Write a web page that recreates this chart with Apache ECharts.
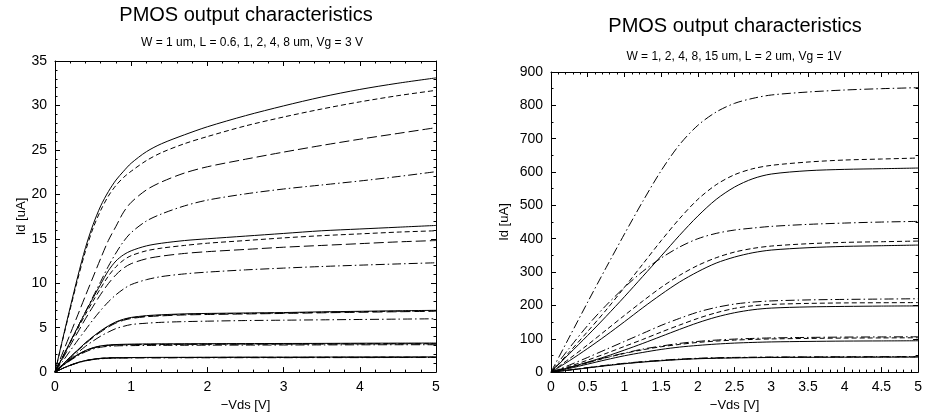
<!DOCTYPE html>
<html>
<head>
<meta charset="utf-8">
<script src="https://cdn.jsdelivr.net/npm/echarts@6/dist/echarts.min.js"></script>
<style>html,body{margin:0;padding:0;background:#fff}#c{width:925px;height:417px}</style>
</head>
<body>
<div id="c"></div>
<script>
// ---- Left panel: W = 1 um, L = 0.6, 1, 2, 4, 8 um, Vg = 3 V ----
const xLeft = [0,0.1,0.2,0.3,0.4,0.5,0.6,0.7,0.8,0.9,1,1.2,1.4,1.7,2,2.5,3,3.5,4,4.5,5];
const L06_solid = [0,3.7,7.3,10.8,14.0,16.6,18.7,20.3,21.6,22.6,23.5,24.8,25.7,26.7,27.6,28.85,29.95,30.95,31.8,32.5,33.1];
const L06_short = [0,3.6,7.1,10.5,13.6,16.2,18.2,19.8,21.0,21.9,22.6,23.8,24.7,25.7,26.5,27.7,28.7,29.6,30.4,31.1,31.7];
const L06_long  = [0,2.15,4.3,6.45,8.6,10.7,12.8,14.8,16.4,18.0,19.1,20.5,21.4,22.4,23.1,23.95,24.75,25.5,26.2,26.85,27.5];
const L06_dd    = [0,1.7,3.4,5.1,6.8,8.5,10.2,11.9,13.4,14.7,15.7,17.0,17.8,18.7,19.35,20.05,20.6,21.05,21.5,22.0,22.55];
const L1_solid = [0,1.7,3.4,5.1,6.75,8.35,9.9,11.4,12.5,13.2,13.65,14.2,14.5,14.8,15.0,15.3,15.6,15.9,16.1,16.3,16.5];
const L1_short = [0,1.65,3.3,4.9,6.5,8.0,9.45,10.8,11.85,12.6,13.1,13.65,13.95,14.25,14.5,14.8,15.1,15.35,15.55,15.75,15.9];
const L1_long  = [0,1.5,3.0,4.5,6.0,7.4,8.75,9.95,10.95,11.7,12.2,12.75,13.05,13.35,13.55,13.8,14.05,14.25,14.45,14.65,14.8];
const L1_dd    = [0,1.2,2.4,3.6,4.75,5.9,6.95,7.9,8.7,9.35,9.85,10.4,10.75,11.05,11.25,11.5,11.7,11.88,12.03,12.17,12.3];
const L2_solid = [0,0.85,1.7,2.5,3.3,4.0,4.65,5.2,5.65,5.95,6.15,6.35,6.45,6.55,6.6,6.65,6.7,6.78,6.84,6.9,6.95];
const L2_short = [0,0.84,1.68,2.48,3.27,3.97,4.6,5.15,5.6,5.9,6.1,6.3,6.4,6.5,6.55,6.6,6.66,6.73,6.8,6.85,6.9];
const L2_long  = [0,0.82,1.64,2.43,3.2,3.9,4.52,5.07,5.52,5.83,6.03,6.23,6.33,6.43,6.48,6.54,6.6,6.67,6.73,6.79,6.85];
const L2_dd    = [0,0.75,1.5,2.2,2.9,3.5,4.05,4.5,4.9,5.15,5.35,5.5,5.6,5.68,5.73,5.8,5.84,5.88,5.92,5.96,6.0];
const L4_solid = [0,0.75,1.4,1.98,2.43,2.75,2.95,3.05,3.1,3.13,3.15,3.17,3.18,3.19,3.2,3.21,3.22,3.23,3.25,3.26,3.27];
const L4_short = [0,0.74,1.38,1.95,2.4,2.72,2.92,3.02,3.07,3.09,3.1,3.12,3.13,3.14,3.15,3.16,3.17,3.18,3.19,3.2,3.2];
const L4_long  = [0,0.73,1.36,1.93,2.37,2.69,2.89,2.99,3.04,3.06,3.08,3.1,3.11,3.12,3.13,3.14,3.15,3.16,3.17,3.18,3.18];
const L4_dd    = [0,0.7,1.3,1.85,2.28,2.6,2.8,2.9,2.95,2.97,2.98,3.0,3.01,3.02,3.03,3.04,3.05,3.06,3.07,3.08,3.08];
const L8_solid = [0,0.42,0.78,1.08,1.3,1.45,1.55,1.6,1.62,1.63,1.64,1.65,1.66,1.66,1.67,1.68,1.68,1.69,1.7,1.7,1.71];
const L8_short = [0,0.41,0.77,1.07,1.29,1.44,1.54,1.59,1.61,1.62,1.63,1.64,1.64,1.65,1.65,1.66,1.66,1.67,1.67,1.68,1.68];
const L8_long  = [0,0.41,0.76,1.06,1.28,1.43,1.53,1.58,1.6,1.61,1.62,1.63,1.63,1.64,1.64,1.65,1.65,1.66,1.66,1.67,1.67];
const L8_dd    = [0,0.4,0.75,1.04,1.26,1.41,1.5,1.55,1.57,1.58,1.59,1.6,1.6,1.61,1.61,1.62,1.62,1.63,1.63,1.64,1.64];

// ---- Right panel: W = 1, 2, 4, 8, 15 um, L = 2 um, Vg = 1V ----
const xRight = [0,0.25,0.5,0.75,1,1.25,1.5,1.75,2,2.25,2.5,2.75,3,3.5,4,4.5,5];
const W15_dd    = [0,105,210,313,414,512,604,682,740,780,806,821,831,840,846,850,853];
const W15_dash  = [0,60,122,186,254,324,394,460,518,562,592,610,620,630,636,639,642];
const W15_solid = [0,55,110,167,226,287,348,410,468,518,555,580,594,604,608,610,612];
const W8_dd     = [0,72,140,200,254,302,342,375,400,416,426,432,437,443,447,450,452];
const W8_dash   = [0,40,82,126,170,213,254,290,320,343,360,371,378,385,389,391,393];
const W8_solid  = [0,34,71,110,151,193,233,270,301,327,345,358,366,373,377,379,381];
const W4_dd     = [0,21,44,68,92,116,140,161,180,194,204,210,213.5,216.5,218,219,220];
const W4_dash   = [0,17,36,56,77,98,120,141,161,178,191,199,203,206,207.5,208,208.5];
const W4_solid  = [0,14,30,47,66,86,107,128,148,165,178,187,192,195.5,197,198,198.5];
const W2_dd     = [0,14,29,44,57,69,78,86,92,96,99,101,102.5,104,105,105.5,106];
const W2_dash   = [0,13,28,43,56,67,76,83,89,93,96,98,99.5,101,102,102.5,103];
const W2_solid  = [0,11,24,37,49,59,68,75,80,84,87,89,90.5,92,93,93.5,94];
const W1_dd     = [0,6.5,13.5,20.5,26.5,31.5,35.5,39,41.5,43,44,44.7,45.2,45.7,46,46.3,46.5];
const W1_dash   = [0,6.2,13,19.7,25.7,30.7,34.7,38.2,40.7,42.2,43.2,43.9,44.4,44.9,45.2,45.5,45.7];
const W1_solid  = [0,6,12.5,19,25,30,34,37.5,40,41.5,42.5,43.3,43.8,44.3,44.6,44.8,45];

const FONT = 'Liberation Sans, Arial, Helvetica, sans-serif';
const DASH = {solid: 'solid', short: [5,3], long: [10,4], dd: [9,3,1.5,3]};

function ser(xs, ys, style, panel) {
  return {
    type: 'line', xAxisIndex: panel * 2, yAxisIndex: panel * 2,
    data: xs.map((x, i) => [x, ys[i]]),
    showSymbol: false, symbol: 'none', smooth: 0.3, clip: true,
    lineStyle: {color: '#000', width: 1, type: DASH[style]},
    silent: true
  };
}

const leftSeries = [
  [L06_solid,'solid'],[L06_short,'short'],[L06_long,'long'],[L06_dd,'dd'],
  [L1_solid,'solid'],[L1_short,'short'],[L1_long,'long'],[L1_dd,'dd'],
  [L2_solid,'solid'],[L2_short,'short'],[L2_long,'long'],[L2_dd,'dd'],
  [L4_solid,'solid'],[L4_short,'short'],[L4_long,'long'],[L4_dd,'dd'],
  [L8_solid,'solid'],[L8_short,'short'],[L8_long,'long'],[L8_dd,'dd']
].map(([d, s]) => ser(xLeft, d, s, 0));

const rightSeries = [
  [W15_dd,'dd'],[W15_dash,'short'],[W15_solid,'solid'],
  [W8_dd,'dd'],[W8_dash,'short'],[W8_solid,'solid'],
  [W4_dd,'dd'],[W4_dash,'short'],[W4_solid,'solid'],
  [W2_dd,'dd'],[W2_dash,'short'],[W2_solid,'solid'],
  [W1_dd,'dd'],[W1_dash,'short'],[W1_solid,'solid']
].map(([d, s]) => ser(xRight, d, s, 1));

function axis(o) {
  const base = {
    type: 'value',
    axisLine: {show: true, onZero: false, lineStyle: {color: '#000', width: 1}},
    axisTick: {show: true, inside: true, length: 5, lineStyle: {color: '#000', width: 1}},
    minorTick: {show: true, length: 2.5, lineStyle: {color: '#000', width: 1}},
    splitLine: {show: false},
    axisLabel: {color: '#000', fontSize: 14, fontFamily: FONT, margin: 8},
    nameTextStyle: {color: '#000', fontSize: 13, fontFamily: FONT}
  };
  const r = Object.assign({}, base, o);
  r.minorTick = Object.assign({}, base.minorTick, o.minorTick || {});
  if (o.mirror) { r.axisLabel = {show: false}; delete r.mirror; }
  return r;
}

const option = {
  animation: false,
  backgroundColor: '#fff',
  grid: [
    {left: 55, top: 61, width: 381, height: 314},
    {left: 551, top: 72, width: 370, height: 304}
  ],
  xAxis: [
    axis({gridIndex: 0, position: 'bottom', min: 0, max: 5, interval: 1, minorTick: {splitNumber: 5},
          name: '\u2212Vds [V]', nameLocation: 'middle', nameGap: 25}),
    axis({gridIndex: 0, position: 'top', min: 0, max: 5, interval: 1, minorTick: {splitNumber: 5}, mirror: true}),
    axis({gridIndex: 1, position: 'bottom', min: 0, max: 5, interval: 0.5, minorTick: {splitNumber: 5},
          name: '\u2212Vds [V]', nameLocation: 'middle', nameGap: 25}),
    axis({gridIndex: 1, position: 'top', min: 0, max: 5, interval: 0.5, minorTick: {splitNumber: 5}, mirror: true})
  ],
  yAxis: [
    axis({gridIndex: 0, position: 'left', min: 0, max: 35, interval: 5, minorTick: {splitNumber: 5},
          name: 'Id [uA]', nameLocation: 'middle', nameGap: 26}),
    axis({gridIndex: 0, position: 'right', min: 0, max: 35, interval: 5, minorTick: {splitNumber: 5}, mirror: true}),
    axis({gridIndex: 1, position: 'left', min: 0, max: 900, interval: 100, minorTick: {splitNumber: 2},
          name: 'Id [uA]', nameLocation: 'middle', nameGap: 40}),
    axis({gridIndex: 1, position: 'right', min: 0, max: 900, interval: 100, minorTick: {splitNumber: 2}, mirror: true})
  ],
  graphic: [
    {type: 'text', x: 246, y: 15, style: {text: 'PMOS output characteristics', fontSize: 20, fontFamily: FONT, fill: '#000', align: 'center', verticalAlign: 'middle', textAlign: 'center', textVerticalAlign: 'middle'}},
    {type: 'text', x: 252, y: 43, style: {text: 'W = 1 um, L = 0.6, 1, 2, 4, 8 um, Vg = 3 V', fontSize: 12, fontFamily: FONT, fill: '#000', align: 'center', verticalAlign: 'middle', textAlign: 'center', textVerticalAlign: 'middle'}},
    {type: 'text', x: 735, y: 26, style: {text: 'PMOS output characteristics', fontSize: 20, fontFamily: FONT, fill: '#000', align: 'center', verticalAlign: 'middle', textAlign: 'center', textVerticalAlign: 'middle'}},
    {type: 'text', x: 734, y: 57, style: {text: 'W = 1, 2, 4, 8, 15 um, L = 2 um, Vg = 1V', fontSize: 12, fontFamily: FONT, fill: '#000', align: 'center', verticalAlign: 'middle', textAlign: 'center', textVerticalAlign: 'middle'}}
  ],
  series: leftSeries.concat(rightSeries)
};

const chart = echarts.init(document.getElementById('c'), null, {renderer: 'canvas'});
chart.setOption(option);
</script>
</body>
</html>
